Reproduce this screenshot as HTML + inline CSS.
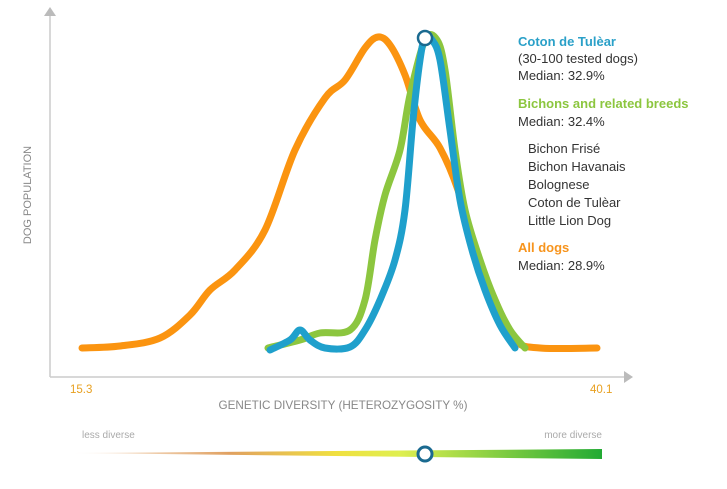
<!DOCTYPE html><html><head><style>
body{margin:0;background:#fff;width:727px;height:484px;overflow:hidden;font-family:"Liberation Sans",sans-serif}
</style></head><body>
<svg id="s" width="727" height="484" xmlns="http://www.w3.org/2000/svg">
<defs><linearGradient id="g" x1="0" x2="1"><stop offset="0" stop-color="#fff"/><stop offset="0.3" stop-color="#e0a060"/><stop offset="0.5" stop-color="#f0e040"/><stop offset="0.62" stop-color="#dfef50"/><stop offset="1" stop-color="#22aa33"/></linearGradient></defs>
<line x1="50" y1="14" x2="50" y2="377" stroke="#ccc" stroke-width="1.5"/>
<polygon points="44,16 56,16 50,7" fill="#bbb"/>
<line x1="50" y1="377" x2="626" y2="377" stroke="#ccc" stroke-width="1.5"/>
<polygon points="624,371 624,383 633,377" fill="#bbb"/>
<text x="31" y="195" transform="rotate(-90 31 195)" text-anchor="middle" font-size="11" fill="#888">DOG POPULATION</text>
<text x="70" y="393" font-size="11.5" fill="#e8a020">15.3</text>
<text x="590" y="393" font-size="11.5" fill="#e8a020">40.1</text>
<text x="343" y="409" text-anchor="middle" font-size="11.7" fill="#888">GENETIC DIVERSITY (HETEROZYGOSITY %)</text>
<text x="82" y="438" font-size="10" fill="#aaa">less diverse</text>
<text x="602" y="438" text-anchor="end" font-size="10" fill="#aaa">more diverse</text>
<polygon points="70,453 602,449 602,459" fill="url(#g)"/>
<circle cx="425" cy="454" r="7" fill="#fff" stroke="#1a6a90" stroke-width="3"/>
<g id="c" fill="none" stroke-linecap="round" stroke-width="7"></g>
<circle cx="425" cy="38" r="7" fill="#fff" stroke="#1a6a90" stroke-width="2.5"/>
<g font-size="13" fill="#333">
<text x="518" y="46" font-weight="bold" fill="#2aa0c8">Coton de Tulèar</text>
<text x="518" y="63">(30-100 tested dogs)</text>
<text x="518" y="80">Median: 32.9%</text>
<text x="518" y="108" font-weight="bold" fill="#8cc63f">Bichons and related breeds</text>
<text x="518" y="126">Median: 32.4%</text>
<text x="528" y="153">Bichon Frisé</text>
<text x="528" y="171">Bichon Havanais</text>
<text x="528" y="189">Bolognese</text>
<text x="528" y="207">Coton de Tulèar</text>
<text x="528" y="225">Little Lion Dog</text>
<text x="518" y="252" font-weight="bold" fill="#f7941d">All dogs</text>
<text x="518" y="270">Median: 28.9%</text>
</g>
</svg>
<script>
function cr(p){let d="M"+p[0];for(let i=0;i<p.length-1;i++){const p0=p[i-1]||p[i],p1=p[i],p2=p[i+1],p3=p[i+2]||p2;
d+=" C"+(p1[0]+(p2[0]-p0[0])/6)+","+(p1[1]+(p2[1]-p0[1])/6)+" "+(p2[0]-(p3[0]-p1[0])/6)+","+(p2[1]-(p3[1]-p1[1])/6)+" "+p2;}return d;}
const O=[[82,348],[120,346],[160,338],[190,315],[210,290],[235,270],[265,230],[295,150],[325,98],[345,80],[365,48],[378,37],[390,45],[405,75],[420,120],[440,148],[458,190],[475,250],[495,300],[515,340],[540,348],[597,348]];
const G=[[268,348],[300,340],[320,333],[350,330],[365,300],[375,240],[385,195],[400,150],[410,95],[425,40],[437,40],[445,70],[455,150],[465,210],[480,260],[495,300],[510,330],[525,348]];
const B=[[270,350],[290,340],[300,330],[310,340],[325,348],[350,347],[365,330],[380,300],[395,260],[405,210],[413,120],[420,60],[425,38],[432,40],[440,60],[450,130],[460,200],[472,250],[485,290],[500,325],[515,348]];
let h="";[[O,"#fb9410"],[G,"#8cc63f"],[B,"#1fa0cc"]].forEach(([p,c])=>{h+='<path d="'+cr(p)+'" stroke="'+c+'"/>';});
document.getElementById("c").innerHTML=h;
</script>
</body></html>
